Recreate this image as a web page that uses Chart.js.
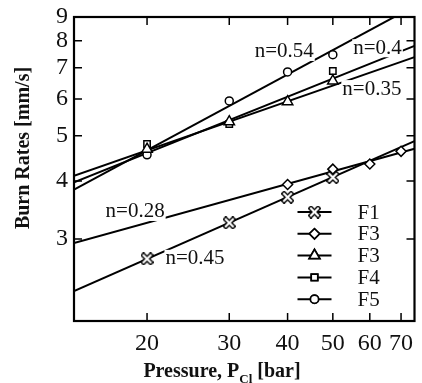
<!DOCTYPE html>
<html>
<head>
<meta charset="utf-8">
<script src="https://cdn.jsdelivr.net/npm/chart.js@4/dist/chart.umd.min.js"></script>
<style>
  html, body { margin: 0; padding: 0; background: #fff; }
  #wrap { width: 422px; height: 383px; }
</style>
</head>
<body>
<div id="wrap"><canvas id="chart" width="422" height="383"></canvas></div>
<script>
// pressure ticks and burn rate ticks (log-log)
const xTicks = [20, 30, 40, 50, 60, 70];
const yTicks = [3, 4, 5, 6, 7, 8, 9];
const xMin = 13.95, xMax = 74.8;
const yMin = 2.0, yMax = 9;

// measured points
const f1P = [20, 30, 40, 50];
const f1R = [2.72, 3.25, 3.69, 4.07];
const f3dP = [40, 50, 60, 70];
const f3dR = [3.93, 4.24, 4.35, 4.63];
const f3tP = [20, 30, 40, 50];
const f3tR = [4.68, 5.36, 5.92, 6.56];
const f4P = [20, 30, 50];
const f4R = [4.80, 5.30, 6.89];
const f5P = [20, 30, 40, 50];
const f5R = [4.55, 5.94, 6.86, 7.47];

// power-law fit lines, value at left and right edge of the plot
const fitP = [xMin, xMax];
const fitF1 = [2.32, 4.87];
const fitF3d = [2.94, 4.69];
const fitF3t = [4.10, 7.38];
const fitF4 = [3.97, 7.80];
const fitF5 = [3.83, 9.5];

// exponent labels: text, pressure, rate
const nText = ['n=0.54', 'n=0.4', 'n=0.35', 'n=0.28', 'n=0.45'];
const nP = [34.0, 55.3, 52.4, 16.3, 21.9];
const nR = [7.57, 7.71, 6.30, 3.43, 2.72];

const legendNames = ['F1', 'F3', 'F3', 'F4', 'F5'];

// hollow X marker
function hollowX(size) {
    const c = document.createElement('canvas');
    c.width = size; c.height = size;
    const g = c.getContext('2d');
    const m = 3;
    g.lineCap = 'square';
    g.beginPath();
    g.moveTo(m, m); g.lineTo(size - m, size - m);
    g.moveTo(size - m, m); g.lineTo(m, size - m);
    g.strokeStyle = '#000'; g.lineWidth = 5; g.stroke();
    g.strokeStyle = '#fff'; g.lineWidth = 2.2; g.stroke();
    return c;
}
const xMark = hollowX(13);

const pts = (p, r) => p.map((v, i) => ({x: v, y: r[i]}));

function markSet(p, r, style, radius) {
    return {
        data: pts(p, r),
        showLine: false,
        pointStyle: style,
        pointRadius: radius,
        pointBackgroundColor: '#fff',
        pointBorderColor: '#000',
        pointBorderWidth: 1.5,
        order: 0
    };
}
function fitSet(r) {
    return {
        data: pts(fitP, r),
        showLine: true,
        borderColor: '#000',
        borderWidth: 2,
        pointRadius: 0,
        order: 1
    };
}

const markers = [
    markSet(f1P, f1R, xMark, 6),
    markSet(f3dP, f3dR, 'rectRot', 5),
    markSet(f3tP, f3tR, 'triangle', 6),
    markSet(f4P, f4R, 'rect', 4.5),
    markSet(f5P, f5R, 'circle', 4)
];

const frame = {
    id: 'frame',
    afterDatasetsDraw(chart) {
        const ctx = chart.ctx, a = chart.chartArea;
        const xs = chart.scales.x, ys = chart.scales.y;
        ctx.save();
        ctx.strokeStyle = '#000';
        ctx.lineWidth = 1.5;
        ctx.beginPath();
        xTicks.forEach(v => {
            const px = xs.getPixelForValue(v);
            ctx.moveTo(px, a.bottom); ctx.lineTo(px, a.bottom - 8);
            ctx.moveTo(px, a.top); ctx.lineTo(px, a.top + 8);
        });
        yTicks.forEach(v => {
            const py = ys.getPixelForValue(v);
            ctx.moveTo(a.left, py); ctx.lineTo(a.left + 8, py);
            ctx.moveTo(a.right, py); ctx.lineTo(a.right - 8, py);
        });
        ctx.stroke();
        ctx.lineWidth = 2.2;
        ctx.strokeRect(a.left, a.top, a.right - a.left, a.bottom - a.top);

        // exponent labels
        ctx.font = '21px "Liberation Serif", serif';
        ctx.textBaseline = 'middle';
        ctx.textAlign = 'left';
        nText.forEach((t, i) => {
            const px = xs.getPixelForValue(nP[i]);
            const py = ys.getPixelForValue(nR[i]);
            ctx.fillStyle = '#fff';
            const w = ctx.measureText(t).width;
            ctx.fillRect(px - 1, py - 9, w + 2, 18);
            ctx.fillStyle = '#111';
            ctx.fillText(t, px, py);
        });

        // legend inside plot
        const lx0 = a.right - 117, lx1 = a.right - 83, tx = a.right - 57;
        const ly0 = a.bottom - 109, step = 21.8;
        legendNames.forEach((name, i) => {
            const y = ly0 + i * step;
            ctx.beginPath();
            ctx.moveTo(lx0, y); ctx.lineTo(lx1, y);
            ctx.lineWidth = 2; ctx.strokeStyle = '#000';
            ctx.stroke();
            const ds = markers[i];
            if (i === 0) {
                ctx.drawImage(xMark, (lx0 + lx1) / 2 - 6.5, y - 6.5);
            } else {
                Chart.helpers.drawPoint(ctx, {
                    pointStyle: ds.pointStyle, radius: ds.pointRadius, rotation: 0,
                    borderWidth: ds.pointBorderWidth
                }, (lx0 + lx1) / 2, y);
                ctx.fillStyle = '#fff';
                ctx.strokeStyle = '#000';
                ctx.lineWidth = ds.pointBorderWidth;
                ctx.fill(); ctx.stroke();
            }
            ctx.fillStyle = '#111';
            ctx.font = '21px "Liberation Serif", serif';
            ctx.textAlign = 'left';
            ctx.fillText(name, tx, y + 1);
        });

        // axis titles
        ctx.font = 'bold 20px "Liberation Serif", serif';
        ctx.fillStyle = '#111';
        ctx.save();
        ctx.translate(24, 148);
        ctx.rotate(-Math.PI / 2);
        ctx.textAlign = 'center';
        ctx.fillText('Burn Rates [mm/s]', 0, 0);
        ctx.restore();

        const part1 = 'Pressure, P', sub = 'Cl', part2 = ' [bar]';
        const subFont = 'bold 13px "Liberation Serif", serif';
        ctx.font = 'bold 20px "Liberation Serif", serif';
        const w1 = ctx.measureText(part1).width, w3 = ctx.measureText(part2).width;
        ctx.font = subFont;
        const w2 = ctx.measureText(sub).width;
        let x = 222 - (w1 + w2 + w3) / 2;
        const base = 377;
        ctx.textAlign = 'left';
        ctx.textBaseline = 'alphabetic';
        ctx.font = 'bold 20px "Liberation Serif", serif';
        ctx.fillText(part1, x, base);
        x += w1;
        ctx.font = subFont;
        ctx.fillText(sub, x, base + 6);
        x += w2;
        ctx.font = 'bold 20px "Liberation Serif", serif';
        ctx.fillText(part2, x, base);
        ctx.restore();
    }
};

const ctx = document.getElementById('chart').getContext('2d');
new Chart(ctx, {
    type: 'scatter',
    data: {
        datasets: [
            ...markers,
            fitSet(fitF1),
            fitSet(fitF3d),
            fitSet(fitF3t),
            fitSet(fitF4),
            fitSet(fitF5)
        ]
    },
    options: {
        responsive: false,
        animation: false,
        layout: { padding: { top: 17, right: 1, left: 0, bottom: 0 } },
        plugins: { legend: { display: false }, tooltip: { enabled: false } },
        scales: {
            x: {
                type: 'logarithmic',
                min: xMin, max: xMax,
                afterBuildTicks: s => { s.ticks = xTicks.map(v => ({value: v})); },
                afterFit: s => { s.height = 62; s.paddingLeft = 0; s.paddingRight = 0; },
                grid: { display: false, drawTicks: false },
                border: { display: false },
                ticks: {
                    color: '#111',
                    padding: 8,
                    maxRotation: 0,
                    autoSkip: false,
                    font: { family: '"Liberation Serif", serif', size: 24 },
                    callback: v => String(v)
                }
            },
            y: {
                type: 'logarithmic',
                min: yMin, max: yMax,
                afterBuildTicks: s => { s.ticks = yTicks.map(v => ({value: v})); },
                afterFit: s => { s.width = 74; s.paddingTop = 0; s.paddingBottom = 0; },
                grid: { display: false, drawTicks: false },
                border: { display: false },
                ticks: {
                    color: '#111',
                    padding: 6,
                    autoSkip: false,
                    font: { family: '"Liberation Serif", serif', size: 24 },
                    callback: v => String(v)
                }
            }
        }
    },
    plugins: [frame]
});
</script>
</body>
</html>
